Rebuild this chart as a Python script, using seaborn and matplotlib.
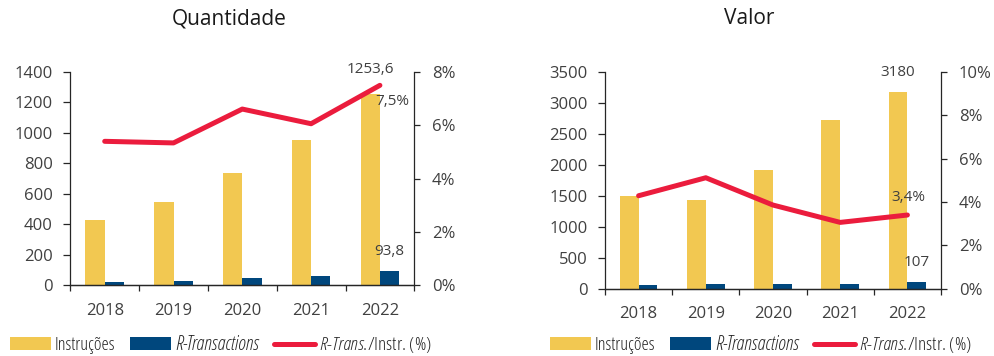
import numpy as np
import pandas as pd
import matplotlib
matplotlib.use("Agg")
import matplotlib.pyplot as plt
from matplotlib.patches import Patch
from matplotlib.lines import Line2D
from matplotlib.ticker import FixedLocator, MultipleLocator, FuncFormatter
from matplotlib.font_manager import FontProperties
import seaborn as sns

# ---- data ---------------------------------------------------------------
years = ["2018", "2019", "2020", "2021", "2022"]

qtd_instrucoes = [428, 545, 737, 956, 1253.6]
qtd_rtrans = [23, 29, 49, 58, 93.8]
qtd_ratio = [5.40, 5.34, 6.61, 6.06, 7.5]

val_instrucoes = [1490, 1428, 1917, 2730, 3180]
val_rtrans = [64, 73, 74, 83, 107]
val_ratio = [4.29, 5.12, 3.86, 3.06, 3.4]

series_names = ["Instruções", "R-Transactions"]
titles = ["Quantidade", "Valor"]

# ---- style --------------------------------------------------------------
YELLOW = "#F2C851"
NAVY = "#00477D"
RED = "#EB1C3D"
TEXT = "#404040"
SPINE = "#262626"

sns.set_theme(style="ticks")
plt.rcParams["font.family"] = ["Open Sans", "DejaVu Sans"]
plt.rcParams["mathtext.fontset"] = "custom"
plt.rcParams["mathtext.it"] = "Open Sans:style=italic:weight=light:stretch=condensed"
plt.rcParams["mathtext.rm"] = "Open Sans:weight=light:stretch=condensed"

LEG_SIZE = 13.2
legend_font = FontProperties(family="Open Sans", stretch="condensed",
                             weight="light", size=LEG_SIZE)


def br(v, decimals):
    return f"{v:.{decimals}f}".replace(".", ",")


def draw_panel(ax, instr, rtrans, ratio, ymax, ystep, pmax, pstep,
               dec, off_instr, off_rtrans, off_ratio):
    df = pd.DataFrame({
        "ano": years * 2,
        "serie": [series_names[0]] * len(years) + [series_names[1]] * len(years),
        "valor": list(instr) + list(rtrans),
    })
    sns.barplot(data=df, x="ano", y="valor", hue="serie", order=years,
                hue_order=series_names, palette=[YELLOW, NAVY], saturation=1,
                width=0.56, ax=ax, legend=False, linewidth=0)
    ax.set_xlabel("")
    ax.set_ylabel("")
    ax.set_ylim(0, ymax)
    ax.yaxis.set_major_locator(MultipleLocator(ystep))

    ax2 = ax.twinx()
    pos = np.arange(len(years))
    sns.lineplot(x=pos, y=ratio, ax=ax2, color=RED, linewidth=3.6,
                 solid_capstyle="round")
    ax2.set_ylim(0, pmax)
    ax2.yaxis.set_major_locator(MultipleLocator(pstep))
    ax2.yaxis.set_major_formatter(FuncFormatter(lambda v, p: f"{v:.0f}%"))

    ax.set_xlim(-0.5, len(years) - 0.5)
    ax.set_xticks(pos)
    ax.set_xticklabels(years)
    ax.xaxis.set_minor_locator(FixedLocator(np.arange(len(years) + 1) - 0.5))

    ax.tick_params(axis="x", which="major", length=0, pad=12.5,
                   labelsize=12, labelcolor=TEXT)
    ax.tick_params(axis="x", which="minor", direction="out", length=4,
                   width=0.9, color=SPINE)
    ax.tick_params(axis="y", direction="out", length=5, width=0.9,
                   color=SPINE, pad=7.6, labelsize=12, labelcolor=TEXT)
    ax2.tick_params(axis="y", direction="out", length=4.2, width=0.9,
                    color=SPINE, pad=8.6, labelsize=12, labelcolor=TEXT)

    for a in (ax, ax2):
        for s in a.spines.values():
            s.set_color(SPINE)
            s.set_linewidth(0.9)
    ax.spines["top"].set_visible(False)
    ax.spines["right"].set_visible(False)
    ax2.spines["top"].set_visible(False)
    ax2.spines["left"].set_visible(False)

    last = len(years) - 1
    lab = dict(ha="center", va="center", fontsize=11, color=TEXT,
               textcoords="offset points")
    ax.annotate(br(instr[last], dec), xy=(last - 0.14, instr[last]),
                xytext=off_instr, **lab)
    ax.annotate(br(rtrans[last], dec), xy=(last + 0.14, rtrans[last]),
                xytext=off_rtrans, **lab)
    ax2.annotate(br(ratio[last], 1) + "%", xy=(last, ratio[last]),
                 xytext=off_ratio, **lab)
    return ax2


W, H = 995, 356
fig = plt.figure(figsize=(W / 100, H / 100), dpi=100)
ax_q = fig.add_axes([70.3 / W, 1 - 285.3 / H, 344 / W, 213.3 / H])
ax_v = fig.add_axes([605 / W, 1 - 288.7 / H, 336 / W, 216.7 / H])

draw_panel(ax_q, qtd_instrucoes, qtd_rtrans, qtd_ratio, 1400, 200, 8, 2,
           1, (0, 18), (0, 13.9), (8.6, -11.5))
draw_panel(ax_v, val_instrucoes, val_rtrans, val_ratio, 3500, 500, 10, 2,
           0, (0, 13.7), (0, 14.4), (0.5, 12.5))

fig.text(229 / W, 1 - 19 / H, titles[0], ha="center", va="center",
         fontsize=15, color="#1A1A1A")
fig.text(749.5 / W, 1 - 19 / H, titles[1], ha="center", va="center",
         fontsize=15, color="#1A1A1A")

handles = [Patch(facecolor=YELLOW, edgecolor="none"),
           Patch(facecolor=NAVY, edgecolor="none"),
           Line2D([], [], color=RED, linewidth=3.6, solid_capstyle="round")]
labels = [series_names[0], series_names[1],
          r"$\mathit{R}$-$\mathit{Trans.}\!$/Instr. (%)"]

em = LEG_SIZE / 0.72  # legend font size in pixels
for x0 in (9.6, 550):
    leg = fig.legend(handles, labels, loc="center left",
                     bbox_to_anchor=(x0 / W, 1 - 345 / H),
                     bbox_transform=fig.transFigure, ncol=3, frameon=False,
                     prop=legend_font, handlelength=41 / em,
                     handleheight=12 / em, handletextpad=4 / em,
                     columnspacing=15 / em, borderpad=0, borderaxespad=0)
    texts = leg.get_texts()
    for t in texts:
        t.set_color("#262626")
    texts[1].set_fontstyle("italic")
    texts[1].set_fontsize(14.2)
    texts[2].set_fontsize(13.9)

fig.savefig("out.png", dpi=100)
